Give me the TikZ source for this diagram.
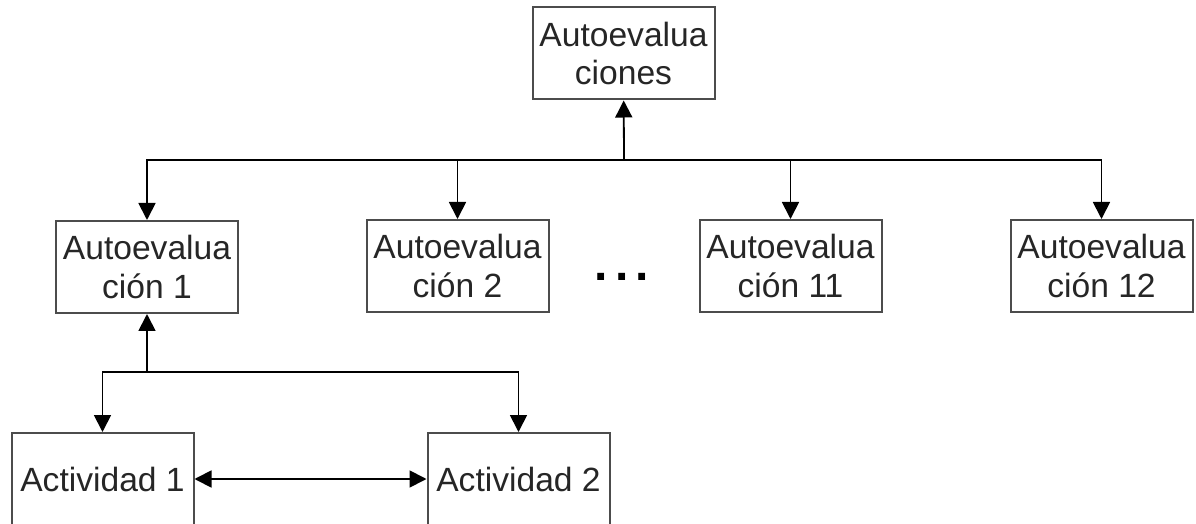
\documentclass[tikz,border=0pt]{standalone}
\usepackage{fontspec}
\setmainfont{Liberation Sans}
\usetikzlibrary{arrows.meta}

\begin{document}
\begin{tikzpicture}[x=0.5pt,y=-0.5pt]
   \tikzset{Caja/.style={draw=black!70,line width=1pt,minimum width=91pt,minimum height=46pt,
      inner sep=0pt,align=center,font=\fontsize{16.8}{19.2}\selectfont,text=black!85}}
   \tikzset{Punta/.tip={Triangle[width=8.5pt,length=8.5pt]}}
   \tikzset{Flecha/.style={line width=0.9pt,-Punta}}
   \useasboundingbox (0,0) rectangle (1196,524);
   \node[Caja] (auto) at (623.5,53.5) {Autoevalua\\ciones};
   \node[Caja] (auto1) at (147,267) {Autoevalua\\ción 1};
   \node[Caja] (auto2) at (457.5,266) {Autoevalua\\ción 2};
   \node[Caja] (auto11) at (790.5,266) {Autoevalua\\ción 11};
   \node[Caja] (auto12) at (1101.5,266) {Autoevalua\\ción 12};
   \node[Caja] (act1) at (102.5,479) {Actividad 1};
   \node[Caja] (act2) at (518.5,479) {Actividad 2};
   \node[font=\fontsize{24}{24}\selectfont\bfseries,inner sep=0pt,anchor=base] (puntos) at (622,281)
      {.\hspace{3.5pt}.\hspace{3.5pt}.};
   \coordinate (bus) at (624,160);
   \coordinate (bus2) at (147,372);
   \draw[Flecha] (bus) -- (auto);
   \draw[Flecha] (bus) -| (auto1);
   \draw[Flecha] (bus) -| (auto2);
   \draw[Flecha] (bus) -| (auto11);
   \draw[Flecha] (bus) -| (auto12);
   \draw[Flecha] (bus2) -- (auto1);
   \draw[Flecha] (bus2) -| (act1);
   \draw[Flecha] (bus2) -| (act2);
   \draw[Flecha,Punta-Punta] (act1) -- (act2);
\end{tikzpicture}
\end{document}
